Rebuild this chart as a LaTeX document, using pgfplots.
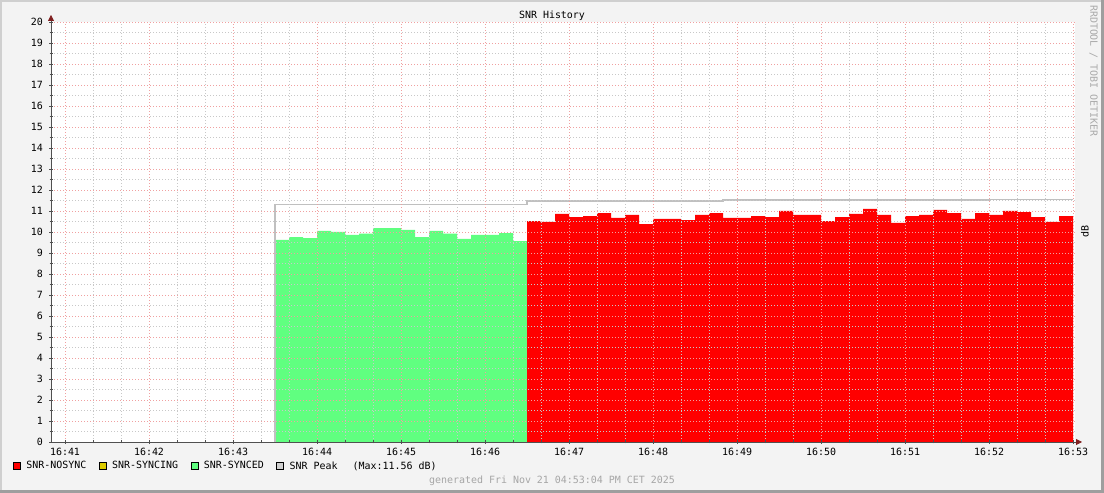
\documentclass[border=0pt]{standalone}
\usepackage{pgfplots}
\pgfplotsset{compat=1.18}
\usepackage{fontspec}
\setmainfont{DejaVu Sans Mono}
\usetikzlibrary{arrows.meta}
\definecolor{bgc}{HTML}{F3F3F3}
\definecolor{shadea}{HTML}{CFCFCF}
\definecolor{shadeb}{HTML}{9E9E9E}
\definecolor{synced}{HTML}{60FF80}
\definecolor{nosync}{HTML}{FF0000}
\definecolor{syncing}{HTML}{DDCC00}
\definecolor{peak}{HTML}{C0C0C0}
\definecolor{peakbox}{HTML}{D0D0D0}
\definecolor{mgrid}{HTML}{F0A0A0}
\definecolor{mingrid}{HTML}{C8C8C8}
\definecolor{axisc}{HTML}{505050}
\definecolor{arrowc}{HTML}{7F1F1F}
\definecolor{wmark}{HTML}{AAAAAA}

\pgfplotstableread{
x y
43.5 9.62
43.6667 9.76
43.8333 9.71
44 10.05
44.1667 10.00
44.3333 9.86
44.5 9.92
44.6667 10.19
44.8333 10.19
45 10.10
45.1667 9.76
45.3333 10.05
45.5 9.92
45.6667 9.67
45.8333 9.86
46 9.86
46.1667 9.95
46.3333 9.57
46.5 9.57
}\synced

\pgfplotstableread{
x y
46.5 10.52
46.6667 10.48
46.8333 10.86
47 10.71
47.1667 10.76
47.3333 10.90
47.5 10.67
47.6667 10.81
47.8333 10.38
48 10.62
48.1667 10.62
48.3333 10.57
48.5 10.81
48.6667 10.90
48.8333 10.67
49 10.67
49.1667 10.76
49.3333 10.71
49.5 11.00
49.6667 10.81
49.8333 10.81
50 10.52
50.1667 10.71
50.3333 10.86
50.5 11.10
50.6667 10.81
50.8333 10.43
51 10.76
51.1667 10.81
51.3333 11.05
51.5 10.90
51.6667 10.62
51.8333 10.90
52 10.81
52.1667 11.00
52.3333 10.95
52.5 10.71
52.6667 10.48
52.8333 10.76
53 10.76
}\nosync

\pgfplotstableread{
x y
43.5 0
43.5 11.32
46.5 11.47
48.8333 11.52
52 11.56
53 11.56
}\peak

\begin{document}
\begin{tikzpicture}[x=1bp,y=1bp]
\fill[bgc] (0,0) rectangle (1104,493);
\fill[shadea] (0,0) rectangle (2,493);
\fill[shadea] (0,491) rectangle (1104,493);
\fill[shadeb] (1101,0) rectangle (1104,493);
\fill[shadeb] (0,0) rectangle (1104,3);
\begin{axis}[
  at={(51bp,51bp)}, anchor=south west,
  scale only axis, width=1024bp, height=420bp,
  xmin=40.8333, xmax=53.0238, ymin=0, ymax=20,
  axis background/.style={fill=white},
  axis lines=left,
  axis on top,
  axis line style={draw=axisc, line width=0.8bp, -{Triangle[length=6bp,width=6bp,color=arrowc]}},
  x axis line style={shorten >=-7bp},
  y axis line style={shorten >=-7bp},
  xtick={41,42,43,44,45,46,47,48,49,50,51,52,53},
  xticklabels={16:41,16:42,16:43,16:44,16:45,16:46,16:47,16:48,16:49,16:50,16:51,16:52,16:53},
  ytick={0,1,...,20},
  minor x tick num=2, minor y tick num=1,
  grid=both,
  major grid style={draw=mgrid, line width=0.8bp, dash pattern=on 1bp off 2bp},
  minor grid style={draw=mingrid, line width=0.8bp, dash pattern=on 1bp off 2bp},
  tick style={draw=axisc, line width=0.8bp},
  tick align=center, major tick length=4bp, minor tick length=3bp,
  /pgf/number format/assume math mode=true,
  ticklabel style={font=\fontsize{10}{12}\selectfont, inner sep=0pt},
  yticklabel style={xshift=-6bp},
  xticklabel style={yshift=-4bp},
  legend columns=-1,
  legend cell align=left,
  legend style={draw=none, fill=none, at={(axis description cs:-0.0373,-0.0571)}, anchor=west,
    inner sep=0pt, font=\fontsize{10}{12}\selectfont, nodes={inner sep=0pt},
    /tikz/every odd column/.append style={column sep=5.5bp},
    /tikz/every even column/.append style={column sep=12.5bp}},
]
\addplot[const plot, fill=synced, draw=none, forget plot] table[x=x,y=y] {\synced} \closedcycle;
\addplot[const plot, fill=nosync, draw=none, forget plot] table[x=x,y=y] {\nosync} \closedcycle;
\addplot[const plot, draw=peak, line width=1.3bp, forget plot] table[x=x,y=y] {\peak};
\addlegendimage{legend image code/.code={\filldraw[fill=nosync,draw=black,line width=0.8bp] (0bp,-3.5bp) rectangle (7bp,3.5bp);}}
\addlegendentry{SNR-NOSYNC}
\addlegendimage{legend image code/.code={\filldraw[fill=syncing,draw=black,line width=0.8bp] (0bp,-3.5bp) rectangle (7bp,3.5bp);}}
\addlegendentry{SNR-SYNCING}
\addlegendimage{legend image code/.code={\filldraw[fill=synced,draw=black,line width=0.8bp] (0bp,-3.5bp) rectangle (7bp,3.5bp);}}
\addlegendentry{SNR-SYNCED}
\addlegendimage{legend image code/.code={\filldraw[fill=peakbox,draw=black,line width=0.8bp] (0bp,-3.5bp) rectangle (7bp,3.5bp);}}
\addlegendentry{SNR Peak\hspace{15bp}(Max:11.56 dB)}
\end{axis}
\node[font=\fontsize{10}{12}\selectfont] at (552,477) {SNR History};
\node[font=\fontsize{10}{12}\selectfont, text=gray!70] at (552,12.5) {generated Fri Nov 21 04:53:04 PM CET 2025};
\node[font=\fontsize{10}{12}\selectfont, rotate=90] at (1085,261) {dB};
\node[font=\fontsize{10}{12}\selectfont, text=wmark, rotate=-90] at (1093.5,422) {RRDTOOL / TOBI OETIKER};
\end{tikzpicture}
\end{document}
